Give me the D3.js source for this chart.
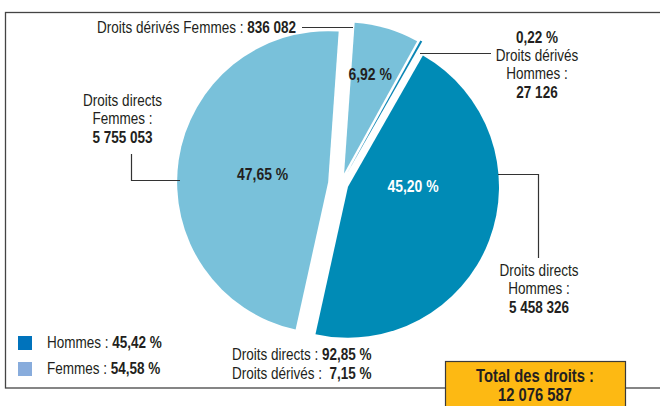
<!DOCTYPE html>
<html>
<head>
<meta charset="utf-8">
<script src="https://cdn.jsdelivr.net/npm/d3@7"></script>
<style>
  body { margin: 0; background: #fff; }
  text { font-family: "Liberation Sans", Arial, sans-serif; fill: #231f20; }
</style>
</head>
<body>
<div id="chart"></div>
<script>
// slices, clockwise from the top
var segments = ["Droits dérivés Femmes", "Droits dérivés Hommes", "Droits directs Hommes", "Droits directs Femmes"];
var counts = [836082, 27126, 5458326, 5755053];
var colors = ["#79c1da", "#0a85b4", "#008bb6", "#79c1da"];

var legendLabels = ["Hommes", "Femmes"];
var legendColors = ["#0073bc", "#88acdc"];
var rightsLabels = ["Droits directs", "Droits dérivés"];

var width = 660, height = 406;
var cx = 341, cy = 184, radius = 151;
var deg = Math.PI / 180;
var explode = [11, 13, 7.5, 13];
var narrow = 0.845;   // no Arial Narrow here, squeeze Liberation Sans instead

var fr = d3.formatLocale({decimal: ",", thousands: " ", grouping: [3], currency: ["", " €"]});
var fmtN = fr.format(",d"), fmtP = fr.format(".2f");
var total = d3.sum(counts);
var pct = function(v) { return fmtP(v / total * 100) + " %"; };

var svg = d3.select("#chart").append("svg")
    .attr("width", width)
    .attr("height", height);

// frame
svg.append("rect")
    .attr("x", 5.5).attr("y", 12.5)
    .attr("width", 700).attr("height", 375.5)
    .attr("fill", "none").attr("stroke", "#444").attr("stroke-width", 1.3);

var pie = d3.pie().sort(null).value(function(d) { return d; })
    .startAngle(4 * deg).endAngle(364 * deg);
var arc = d3.arc().innerRadius(0).outerRadius(radius);
var arcs = pie(counts);

function apex(d, i) {
    var m = (d.startAngle + d.endAngle) / 2;
    return [cx + explode[i] * Math.sin(m), cy - explode[i] * Math.cos(m)];
}

svg.selectAll(".slice")
    .data(arcs)
  .enter().append("path")
    .attr("class", "slice")
    .attr("transform", function(d, i) { return "translate(" + apex(d, i) + ")"; })
    .attr("fill", function(d, i) { return colors[i]; })
    .attr("d", arc);

// leader lines
var line = d3.line();
var leaders = [
    [[302, 27.5], [353, 27.5]],
    [[420, 53.5], [491, 53.5]],
    [[498, 174.5], [538.5, 174.5], [538.5, 258]],
    [[131.5, 154], [131.5, 180.5], [180, 180.5]]
];
svg.selectAll(".leader")
    .data(leaders)
  .enter().append("path")
    .attr("class", "leader")
    .attr("d", line)
    .attr("fill", "none").attr("stroke", "#333").attr("stroke-width", 1.2);

// multi-line text, each line a list of [string, bold]
function block(x, y, anchor, lines, size, gap, fill) {
    var g = svg.append("g")
        .attr("transform", "translate(" + x + "," + y + ") scale(" + narrow + ",1)");
    var t = g.append("text")
        .attr("text-anchor", anchor)
        .style("font-size", (size || 16) + "px")
        .style("white-space", "pre");
    if (fill) t.style("fill", fill);
    lines.forEach(function(ln, k) {
        var ts = t.append("tspan").attr("x", 0).attr("y", k * (gap || 18.5));
        ln.forEach(function(part) {
            ts.append("tspan")
                .style("font-weight", part[1] ? "bold" : "normal")
                .text(part[0]);
        });
    });
    return g;
}

// percentages inside the slices: [distance from apex, angle in degrees]
var inner = [[103, 14.6], null, [65, 89], [66, 277]];
arcs.forEach(function(d, i) {
    if (!inner[i]) return;
    var a = apex(d, i), p = inner[i];
    block(a[0] + p[0] * Math.sin(p[1] * deg),
          a[1] - p[0] * Math.cos(p[1] * deg) + 6,
          "middle", [[[pct(d.value), 1]]], 16.5, 0, i == 2 ? "#fff" : null);
});

block(296, 32.5, "end", [[[segments[0] + " : ", 0], [fmtN(counts[0]), 1]]]);
block(537, 42.5, "middle", [
    [[pct(counts[1]), 1]],
    [["Droits dérivés", 0]],
    [["Hommes :", 0]],
    [[fmtN(counts[1]), 1]]
]);
block(539, 276, "middle", [
    [["Droits directs", 0]],
    [["Hommes :", 0]],
    [[fmtN(counts[2]), 1]]
]);
block(122.5, 106, "middle", [
    [["Droits directs", 0]],
    [["Femmes :", 0]],
    [[fmtN(counts[3]), 1]]
]);

// legend
var sexShares = [counts[1] + counts[2], counts[0] + counts[3]];
legendLabels.forEach(function(l, i) {
    svg.append("rect")
        .attr("x", 18).attr("y", 336 + i * 26)
        .attr("width", 14).attr("height", 14)
        .attr("fill", legendColors[i]);
    block(47, 348 + i * 26, "start", [[[l + " : ", 0], [pct(sexShares[i]), 1]]]);
});

// directs / dérivés split
var rightsShares = [counts[2] + counts[3], counts[0] + counts[1]];
block(232, 360, "start", [
    [[rightsLabels[0] + " : ", 0], [pct(rightsShares[0]), 1]],
    [[rightsLabels[1] + " :  ", 0], [pct(rightsShares[1]), 1]]
], 16, 19.5);

// total box
svg.append("rect")
    .attr("x", 445.5).attr("y", 361.5)
    .attr("width", 180).attr("height", 60)
    .attr("fill", "#fdb913").attr("stroke", "#3a3a3a").attr("stroke-width", 1.2);
block(535, 382, "middle", [
    [["Total des droits :", 1]],
    [[fmtN(total), 1]]
], 17.5, 19.5);
</script>
</body>
</html>
